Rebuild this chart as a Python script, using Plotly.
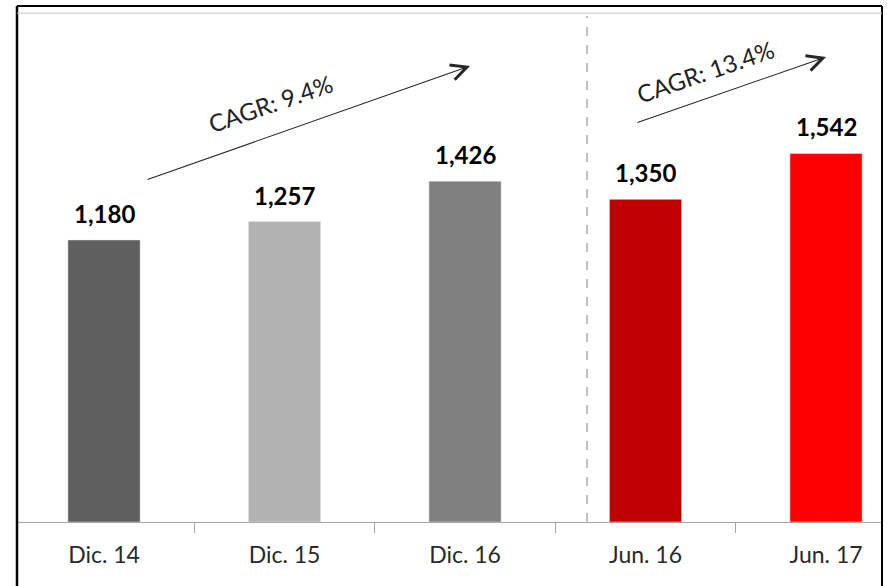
import plotly.graph_objects as go

# data
categories = ["Dic. 14", "Dic. 15", "Dic. 16", "Jun. 16", "Jun. 17"]
values = [1180, 1257, 1426, 1350, 1542]
bar_colors = ["#5f5f5f", "#b2b2b2", "#808080", "#c00000", "#ff0000"]
cagr_labels = ["CAGR: 9.4%", "CAGR: 13.4%"]

font_family = "Lato, 'Open Sans', sans-serif"

fig = go.Figure()

fig.add_trace(
    go.Bar(
        x=categories,
        y=values,
        marker_color=bar_colors,
        width=0.4,
        showlegend=False,
        hoverinfo="x+y",
    )
)

# value labels above bars
for cat, v in zip(categories, values):
    fig.add_annotation(
        x=cat, y=v, xref="x", yref="y", text=f"<b>{v:,}</b>",
        showarrow=False, yanchor="bottom", yshift=10,
        font=dict(size=24, color="black", family=font_family),
    )

# growth arrows (start -> end, in data coords)
arrows = [
    dict(x0=0.233, y0=1431, x1=2.028, y1=1908),
    dict(x0=2.947, y0=1669, x1=4.0, y1=1946),
]
for a in arrows:
    fig.add_annotation(
        x=a["x1"], y=a["y1"], ax=a["x0"], ay=a["y0"],
        xref="x", yref="y", axref="x", ayref="y",
        showarrow=True, arrowhead=5, arrowsize=2.8, arrowwidth=1.1,
        arrowcolor="#262626", text="",
    )

# CAGR labels
label_pos = [(0.92, 1749), (3.33, 1883)]
for (lx, ly), lbl in zip(label_pos, cagr_labels):
    fig.add_annotation(
        x=lx, y=ly, xref="x", yref="y", text=lbl, showarrow=False,
        textangle=-19, font=dict(size=24, color="#222222", family=font_family),
    )

# dashed separator
fig.add_shape(
    type="line", xref="x", yref="y", x0=2.676, x1=2.676, y0=0, y1=2117,
    line=dict(color="#c0c0c0", width=2, dash="dash"),
)

# outer frame
fig.add_shape(type="line", xref="paper", yref="paper", x0=0, x1=0, y0=-0.2, y1=1,
              line=dict(color="black", width=2.5))
fig.add_shape(type="line", xref="paper", yref="paper", x0=0, x1=1, y0=1, y1=1,
              line=dict(color="black", width=2))
fig.add_shape(type="line", xref="paper", yref="paper", x0=1, x1=1, y0=-0.2, y1=1,
              line=dict(color="black", width=2))
fig.add_shape(type="line", xref="paper", yref="paper", x0=0, x1=1, y0=0.986, y1=0.986,
              line=dict(color="#c8c8c8", width=1))

fig.update_xaxes(
    type="category",
    range=[-0.482, 4.31],
    showline=True, linecolor="#a6a6a6", linewidth=1,
    ticks="outside", tickson="boundaries", ticklen=10, tickcolor="#a6a6a6",
    ticklabelstandoff=12,
    tickfont=dict(size=23, color="#2a2a2a", family=font_family),
    showgrid=False, zeroline=False,
)
fig.update_yaxes(
    range=[0, 2159], visible=False, showgrid=False, zeroline=False,
)

fig.update_layout(
    width=887, height=586,
    margin=dict(l=17, r=5, t=6, b=64),
    plot_bgcolor="white", paper_bgcolor="white",
    font=dict(family=font_family),
)

fig.write_html(
    "out.html",
    config={"displayModeBar": False},
    post_script="document.body.style.margin='0';",
)
